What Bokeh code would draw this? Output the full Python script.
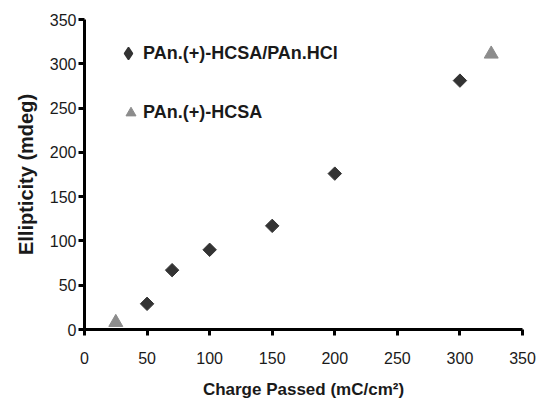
from bokeh.plotting import figure
from bokeh.models import Legend, LegendItem, FixedTicker, Range1d, ColumnDataSource
from bokeh.embed import file_html
from bokeh.resources import INLINE

# ---- data ----
hcl_x = [50, 70, 100, 150, 200, 300]
hcl_y = [29, 67, 90, 117, 176, 281]
hcsa_x = [25, 325]
hcsa_y = [8, 311]
x_ticks = [0, 50, 100, 150, 200, 250, 300, 350]
y_ticks = [0, 50, 100, 150, 200, 250, 300, 350]
series_names = ["PAn.(+)-HCSA/PAn.HCl", "PAn.(+)-HCSA"]

DARK = "#333333"
GREY = "#8c8c8c"
NAN = float("nan")

p = figure(width=539, height=401, output_backend="svg", toolbar_location=None,
           x_range=Range1d(0, 350), y_range=Range1d(0, 350),
           min_border_left=84, min_border_right=17, min_border_top=19, min_border_bottom=71)

p.outline_line_color = None
p.xgrid.grid_line_color = None
p.ygrid.grid_line_color = None

p.scatter(hcl_x, hcl_y, marker="square", size=9.5, angle=0.785398,
          fill_color=DARK, line_color=DARK)
p.scatter(hcsa_x, hcsa_y, marker="triangle", size=14,
          fill_color=GREY, line_color=GREY)

# legend-only renderers (not drawn in the plot) so legend glyphs can be styled independently
src1 = ColumnDataSource(data=dict(x=[NAN], y=[NAN]))
src2 = ColumnDataSource(data=dict(x=[NAN], y=[NAN]))
lg1 = p.scatter("x", "y", source=src1, marker="diamond", fill_color=DARK, line_color=DARK,
                line_width=1.5)
lg2 = p.scatter("x", "y", source=src2, marker="triangle", fill_color=GREY, line_color=GREY)

for ax, ticks in ((p.xaxis[0], x_ticks), (p.yaxis[0], y_ticks)):
    ax.ticker = FixedTicker(ticks=ticks)
    ax.axis_line_width = 3
    ax.axis_line_color = "black"
    ax.major_tick_line_width = 3
    ax.major_tick_line_color = "black"
    ax.major_tick_out = 6
    ax.major_tick_in = 0
    ax.minor_tick_line_color = None
    ax.major_label_text_font = "Liberation Sans"
    ax.major_label_text_font_size = "16px"
    ax.major_label_text_color = "#1a1a1a"
    ax.axis_label_text_font = "Liberation Sans"
    ax.axis_label_text_font_style = "bold"
    ax.axis_label_text_color = "#1a1a1a"

p.xaxis.axis_label = "Charge Passed (mC/cm²)"
p.xaxis.axis_label_text_font_size = "17px"
p.xaxis.major_label_standoff = 16
p.xaxis.axis_label_standoff = 13

p.yaxis.axis_label = "Ellipticity (mdeg)"
p.yaxis.axis_label_text_font_size = "20px"
p.yaxis.major_label_standoff = 2
p.yaxis.axis_label_standoff = 10

common = dict(padding=0, margin=0, border_line_color=None, background_fill_alpha=0,
              label_text_font="Liberation Sans", label_text_font_style="bold",
              label_text_font_size="18px", label_text_color="#1a1a1a", label_height=20,
              label_standoff=0)

legend1 = Legend(items=[LegendItem(label=series_names[0], renderers=[lg1])],
                 location=(29, 261), glyph_width=30, glyph_height=30, **common)
legend2 = Legend(items=[LegendItem(label=series_names[1], renderers=[lg2])],
                 location=(34, 204), glyph_width=25, glyph_height=25, **common)
p.add_layout(legend1, "center")
p.add_layout(legend2, "center")

open("out.html", "w").write(file_html(p, INLINE))
